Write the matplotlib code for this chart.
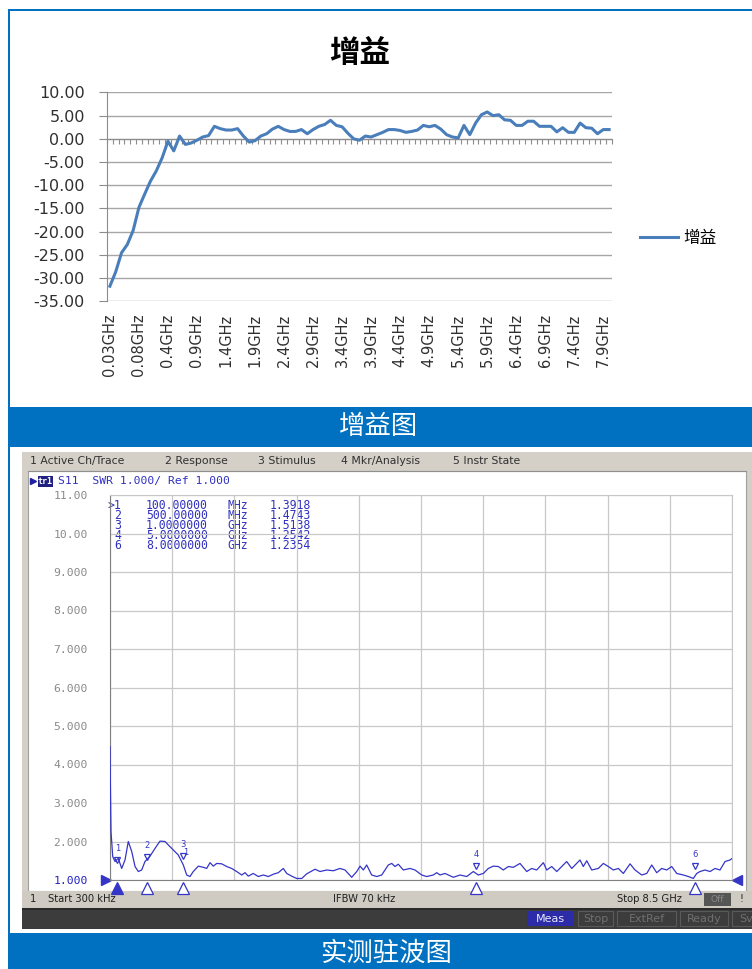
import numpy as np
import matplotlib
matplotlib.use("Agg")
import matplotlib.pyplot as plt
from matplotlib.patches import Rectangle

plt.rcParams['font.family'] = ['DejaVu Sans', 'Noto Sans CJK SC']

W, H = 752, 969

# ---------------- data: gain chart ----------------
gain_freqs_ghz = [0.03, 0.04, 0.05, 0.06, 0.07, 0.08, 0.09, 0.1, 0.2, 0.3] + \
    [round(0.4 + 0.1 * k, 1) for k in range(77)]
gain_categories = [f"{f:g}GHz" for f in gain_freqs_ghz]
gain_values = [-31.8, -28.7, -24.6, -22.8, -19.8, -14.8, -11.9, -9.1, -6.9, -4.1,
               -0.5, -2.6, 0.6, -1.2, -0.9, -0.3, 0.4, 0.7, 2.7, 2.2,
               1.9, 1.9, 2.2, 0.6, -0.7, -0.4, 0.6, 1.1, 2.1, 2.7,
               2.0, 1.6, 1.6, 2.0, 1.1, 2.0, 2.7, 3.1, 4.0, 2.9,
               2.6, 1.2, 0.0, -0.3, 0.6, 0.4, 0.9, 1.4, 2.0, 2.0,
               1.8, 1.4, 1.6, 1.9, 2.9, 2.6, 2.9, 2.1, 0.9, 0.4,
               0.2, 2.9, 0.9, 3.4, 5.2, 5.8, 5.0, 5.2, 4.1, 4.0,
               2.9, 2.9, 3.8, 3.8, 2.7, 2.7, 2.7, 1.5, 2.4, 1.4,
               1.4, 3.4, 2.4, 2.3, 1.1, 2.0, 2.0]
gain_label_step = 5
gain_yticks = [10, 5, 0, -5, -10, -15, -20, -25, -30, -35]
gain_title = "增益"
gain_legend = "增益"

# ---------------- data: SWR screenshot ----------------
swr_freq_ghz = [0.0003, 0.004, 0.014, 0.023, 0.037, 0.068, 0.113, 0.160, 0.205, 0.250,
                0.297, 0.342, 0.387, 0.433, 0.478, 0.547, 0.615, 0.683, 0.752, 0.797,
                0.865, 0.933, 1.002, 1.048, 1.093, 1.138, 1.207, 1.275, 1.321, 1.367,
                1.412, 1.458, 1.526, 1.595, 1.663, 1.731, 1.800, 1.845, 1.890, 1.958,
                2.027, 2.095, 2.163, 2.232, 2.300, 2.368, 2.415, 2.483, 2.551, 2.620,
                2.688, 2.802, 2.870, 2.961, 3.052, 3.143, 3.212, 3.303, 3.372, 3.417,
                3.462, 3.508, 3.576, 3.645, 3.713, 3.803, 3.850, 3.895, 3.940, 4.008,
                4.100, 4.168, 4.260, 4.328, 4.418, 4.465, 4.510, 4.578, 4.623, 4.692,
                4.783, 4.875, 4.965, 5.033, 5.102, 5.170, 5.238, 5.307, 5.375, 5.443,
                5.512, 5.603, 5.695, 5.763, 5.831, 5.922, 5.968, 6.036, 6.105, 6.173,
                6.241, 6.310, 6.378, 6.423, 6.468, 6.515, 6.583, 6.673, 6.742, 6.810,
                6.878, 6.947, 7.015, 7.107, 7.175, 7.266, 7.335, 7.403, 7.471, 7.540,
                7.608, 7.676, 7.745, 7.835, 7.903, 7.972, 8.018, 8.063, 8.131, 8.200,
                8.268, 8.336, 8.405, 8.473, 8.5]
swr_values = [4.46, 3.70, 2.25, 2.00, 1.61, 1.48, 1.56, 1.30, 1.52, 2.00,
              1.74, 1.35, 1.22, 1.26, 1.48, 1.62, 1.82, 2.01, 2.00, 1.91,
              1.78, 1.65, 1.39, 1.13, 1.09, 1.22, 1.36, 1.33, 1.30, 1.45,
              1.36, 1.43, 1.42, 1.35, 1.30, 1.22, 1.13, 1.19, 1.10, 1.17,
              1.09, 1.13, 1.09, 1.15, 1.19, 1.30, 1.17, 1.10, 1.04, 1.04,
              1.16, 1.28, 1.22, 1.26, 1.24, 1.30, 1.26, 1.07, 1.22, 1.36,
              1.26, 1.39, 1.13, 1.09, 1.13, 1.39, 1.43, 1.35, 1.41, 1.26,
              1.30, 1.26, 1.13, 1.09, 1.13, 1.19, 1.13, 1.17, 1.13, 1.07,
              1.13, 1.09, 1.22, 1.13, 1.17, 1.30, 1.36, 1.35, 1.26, 1.35,
              1.33, 1.43, 1.22, 1.30, 1.26, 1.45, 1.26, 1.35, 1.22, 1.35,
              1.48, 1.30, 1.43, 1.52, 1.35, 1.50, 1.26, 1.30, 1.43, 1.35,
              1.26, 1.30, 1.17, 1.42, 1.26, 1.13, 1.17, 1.39, 1.19, 1.30,
              1.26, 1.35, 1.17, 1.13, 1.09, 1.04, 1.17, 1.22, 1.26, 1.22,
              1.30, 1.26, 1.48, 1.52, 1.56]
swr_start_ghz, swr_stop_ghz = 0.0, 8.5
swr_yticks = [1, 2, 3, 4, 5, 6, 7, 8, 9, 10, 11]
swr_ytick_labels = ["1.000", "2.000", "3.000", "4.000", "5.000", "6.000",
                    "7.000", "8.000", "9.000", "10.00", "11.00"]
marker_ids = ["1", "2", "3", "4", "6"]
marker_freq_ghz = [0.1, 0.5, 1.0, 5.0, 8.0]
marker_swr = [1.3918, 1.4743, 1.5138, 1.2542, 1.2354]
marker_freq_num = ["100.00000", "500.00000", "1.0000000", "5.0000000", "8.0000000"]
marker_freq_unit = ["MHz", "MHz", "GHz", "GHz", "GHz"]
menu_items = ["1 Active Ch/Trace", "2 Response", "3 Stimulus", "4 Mkr/Analysis", "5 Instr State"]
status_items = ["Meas", "Stop", "ExtRef", "Ready", "Sv"]
band_titles = ["增益图", "实测驻波图"]

BLUE = "#0070c0"
LINE_BLUE = "#4a7ebb"
TRACE = "#3535c8"
TABLE = "#3030c0"
VNA_GRAY = "#d4d0c8"

fig = plt.figure(figsize=(W / 100, H / 100), dpi=100)


def px_axes(x0, y0, x1, y1, **kw):
    return fig.add_axes([x0 / W, 1 - y1 / H, (x1 - x0) / W, (y1 - y0) / H], **kw)


# ---------------- background / frames ----------------
bg = fig.add_axes([0, 0, 1, 1], zorder=0)
bg.set_xlim(0, W)
bg.set_ylim(H, 0)
bg.axis("off")


def rect(x0, y0, x1, y1, color, **kw):
    bg.add_patch(Rectangle((x0, y0), x1 - x0, y1 - y0, facecolor=color,
                           edgecolor=kw.pop("ec", "none"), lw=kw.pop("lw", 0), **kw))


rect(8, 9, W, 11, BLUE)
rect(8, 9, 10, H, BLUE)
rect(8, 407, W, 447, BLUE)
rect(8, 933, W, H, BLUE)
bg.text(378, 427, band_titles[0], color="white", fontsize=19, ha="center", va="center",
        family=["Noto Sans CJK SC"])
bg.text(386, 953, band_titles[1], color="white", fontsize=19, ha="center", va="center",
        family=["Noto Sans CJK SC"])

# VNA chrome
rect(22, 452, W, 929, VNA_GRAY)
rect(28, 471, 746, 891, "white", ec="#a0a0a0", lw=0.8)
for item, x in zip(menu_items, [30, 165, 258, 341, 453]):
    bg.text(x, 461, item, fontsize=7.8, color="#303030", va="center", ha="left")
bg.plot([28, 746], [470.5, 470.5], color="#909090", lw=0.8)
# trace title
bg.plot(33, 481, marker=">", color="#2020a0", ms=5)
rect(38, 475.5, 53, 486.5, "#202080")
bg.text(45.5, 481, "tr1", color="white", fontsize=6, ha="center", va="center",
        family="DejaVu Sans Mono", weight="bold")
bg.text(58, 481, "S11  SWR 1.000/ Ref 1.000", color=TABLE, fontsize=8.2,
        va="center", family="DejaVu Sans Mono")
# marker table: one multi-line text per column
id_col = "\n".join([(">" if i == 0 else "") + m for i, m in enumerate(marker_ids)])
val_col = "\n".join([f"{v:.4f}" for v in marker_swr])
cols = [(121, "right", id_col), (146, "left", "\n".join(marker_freq_num)),
        (227, "left", "\n".join(marker_freq_unit)), (270, "left", val_col)]
for xc, ha, txt in cols:
    bg.text(xc, 499, txt, color=TABLE, fontsize=8.3, ha=ha, va="top",
            family="DejaVu Sans Mono", linespacing=0.7,
            multialignment=ha)
# bottom status bar
rect(22, 891, W, 908, "#cfcbc3")
bg.text(30, 899.5, "1", fontsize=7.2, color="#202020", va="center")
bg.text(48, 899.5, "Start 300 kHz", fontsize=7.2, color="#202020", va="center")
bg.text(333, 899.5, "IFBW 70 kHz", fontsize=7.2, color="#202020", va="center")
bg.text(617, 899.5, "Stop 8.5 GHz", fontsize=7.2, color="#202020", va="center")
rect(704, 893, 731, 906, "#555555")
bg.text(717.5, 899.5, "Off", fontsize=6.5, color="#888888", va="center", ha="center")
bg.text(741, 899.5, "!", fontsize=7, color="#202020", va="center", ha="center")
rect(22, 908, W, 929, "#3c3c3c")
rect(22, 908, W, 910, "#2a2a2a")
for item, (x0, x1) in zip(status_items, [(527, 574), (578, 613), (617, 676), (680, 728), (732, 760)]):
    if item == "Meas":
        rect(x0, 911, x1, 926, "#2c2ca8")
        col = "#e8e8ff"
    else:
        rect(x0, 911, x1, 926, "#3c3c3c", ec="#5a5a5a", lw=0.8)
        col = "#707070"
    bg.text((x0 + x1) / 2, 918.5, item, fontsize=8, color=col, ha="center", va="center")

# ---------------- gain chart ----------------
ax = px_axes(107, 92.5, 612, 301, zorder=2)
ax.set_facecolor("none")
x = np.arange(len(gain_values))
ax.plot(x, gain_values, color=LINE_BLUE, lw=2.2, solid_joinstyle="round", zorder=3)
ax.set_xlim(-0.5, len(gain_values) - 0.5)
ax.set_ylim(min(gain_yticks), max(gain_yticks))
ax.set_yticks(gain_yticks)
ax.set_yticklabels([f"{v:.2f}" for v in gain_yticks], fontsize=11.5, color="#303030")
ax.yaxis.grid(True, color="#a6a6a6", lw=1.0)
ax.set_axisbelow(True)
for s in ["top", "right"]:
    ax.spines[s].set_visible(False)
ax.spines["left"].set_color("#8c8c8c")
ax.spines["bottom"].set_position(("data", 0))
ax.spines["bottom"].set_color("#8c8c8c")
ax.tick_params(axis="y", length=6, color="#8c8c8c", pad=10)
ax.set_xticks(np.arange(len(gain_values) + 1) - 0.5)
ax.tick_params(axis="x", length=3.5, color="#8c8c8c", labelbottom=False)
sec = ax.secondary_xaxis(0)
sec.set_xticks(x[::gain_label_step])
sec.set_xticklabels(gain_categories[::gain_label_step], rotation=90, fontsize=10.5,
                    color="#303030")
sec.tick_params(length=0, pad=9)
sec.spines["bottom"].set_visible(False)
ax.set_title(gain_title, fontsize=22, weight="bold", family=["Noto Sans CJK SC"], pad=22)
ax.legend([gain_legend], loc="center left", bbox_to_anchor=(1.025, 0.3), frameon=False,
          prop={"family": "Noto Sans CJK SC", "size": 12}, handlelength=2.3,
          handletextpad=0.3)

# ---------------- SWR display ----------------
ax2 = px_axes(110, 495, 732, 880, zorder=2)
ax2.set_facecolor("none")
ax2.plot(swr_freq_ghz, swr_values, color=TRACE, lw=0.9, zorder=3)
ax2.set_xlim(swr_start_ghz, swr_stop_ghz)
ax2.set_ylim(min(swr_yticks), max(swr_yticks))
ax2.set_xticks(np.linspace(swr_start_ghz, swr_stop_ghz, 11))
ax2.set_yticks(swr_yticks)
ax2.set_yticklabels(swr_ytick_labels, family="DejaVu Sans Mono", fontsize=8.2)
for lbl in ax2.get_yticklabels():
    lbl.set_color("#8a8a8a")
ax2.get_yticklabels()[0].set_color("#2020c0")
ax2.tick_params(length=0, labelbottom=False, pad=16)
ax2.grid(True, color="#c8c8c8", lw=0.9)
ax2.set_axisbelow(True)
for s in ["top", "right"]:
    ax2.spines[s].set_color("#c8c8c8")
for s in ["left", "bottom"]:
    ax2.spines[s].set_color("#808080")
# markers on trace
trans = ax2.get_xaxis_transform()
for i, (mid, f, v) in enumerate(zip(marker_ids, marker_freq_ghz, marker_swr)):
    ax2.plot(f, v + 0.12, marker="v", ms=5, mfc="none", mec=TRACE, mew=0.9, zorder=4)
    ax2.text(f, v + 0.3, mid, color=TRACE, fontsize=6, ha="center", va="bottom", zorder=4)
    ax2.plot(f, -0.02, marker="^", ms=8, transform=trans, clip_on=False,
             mfc=(TRACE if i == 0 else "white"), mec=TRACE, mew=0.9, zorder=4)
ax2.plot(-0.006, 0, marker=">", ms=7, color=TRACE, transform=ax2.transAxes, clip_on=False)
ax2.plot(1.008, 0, marker="<", ms=7, color=TRACE, transform=ax2.transAxes, clip_on=False)
ax2.text(1.003, swr_values[-1] + 0.05, marker_ids[0], color=TRACE, fontsize=6,
         ha="left", va="bottom")

fig.savefig("out.png", dpi=100)
